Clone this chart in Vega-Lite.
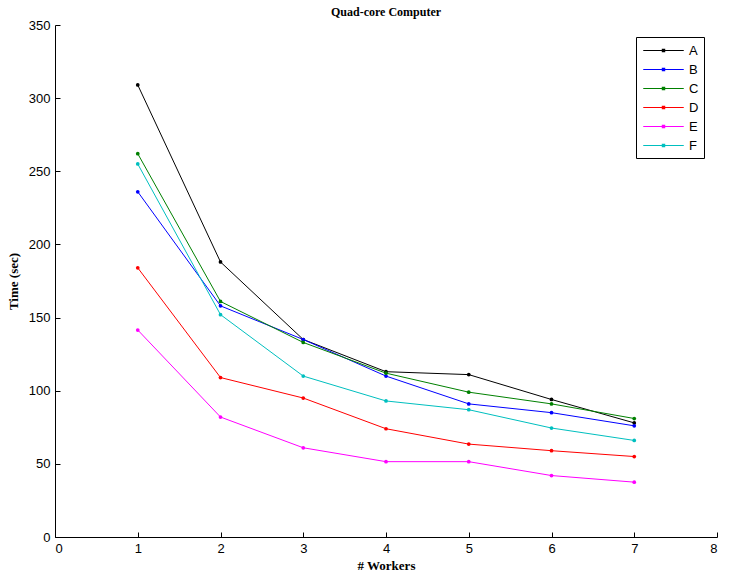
{
  "$schema": "https://vega.github.io/schema/vega-lite/v6.json",
  "width": 662,
  "height": 512,
  "autosize": {"type": "none"},
  "padding": {"left": 55, "top": 25, "right": 12, "bottom": 45},
  "background": "white",
  "title": {"text": "Quad-core Computer", "font": "Liberation Serif", "fontSize": 12, "fontWeight": "bold", "color": "black", "offset": 0},
  "config": {
    "view": {"stroke": null},
    "axis": {"grid": false, "domainColor": "black", "tickColor": "black", "labelColor": "black", "titleColor": "black", "labelFont": "Liberation Sans", "labelFontSize": 13, "titleFont": "Liberation Serif", "titleFontSize": 13, "titleFontWeight": "bold"}
  },
  "data": {"values": [
    {"w": 1, "t": 309, "s": "A"}, {"w": 2, "t": 188, "s": "A"}, {"w": 3, "t": 135, "s": "A"}, {"w": 4, "t": 113, "s": "A"}, {"w": 5, "t": 111, "s": "A"}, {"w": 6, "t": 94, "s": "A"}, {"w": 7, "t": 78, "s": "A"},
    {"w": 1, "t": 236, "s": "B"}, {"w": 2, "t": 158, "s": "B"}, {"w": 3, "t": 135, "s": "B"}, {"w": 4, "t": 110, "s": "B"}, {"w": 5, "t": 91, "s": "B"}, {"w": 6, "t": 85, "s": "B"}, {"w": 7, "t": 76, "s": "B"},
    {"w": 1, "t": 262, "s": "C"}, {"w": 2, "t": 161, "s": "C"}, {"w": 3, "t": 133, "s": "C"}, {"w": 4, "t": 112, "s": "C"}, {"w": 5, "t": 99, "s": "C"}, {"w": 6, "t": 91, "s": "C"}, {"w": 7, "t": 81, "s": "C"},
    {"w": 1, "t": 184, "s": "D"}, {"w": 2, "t": 109, "s": "D"}, {"w": 3, "t": 95, "s": "D"}, {"w": 4, "t": 74, "s": "D"}, {"w": 5, "t": 63.5, "s": "D"}, {"w": 6, "t": 59, "s": "D"}, {"w": 7, "t": 55, "s": "D"},
    {"w": 1, "t": 141.5, "s": "E"}, {"w": 2, "t": 82, "s": "E"}, {"w": 3, "t": 61, "s": "E"}, {"w": 4, "t": 51.5, "s": "E"}, {"w": 5, "t": 51.5, "s": "E"}, {"w": 6, "t": 42, "s": "E"}, {"w": 7, "t": 37.5, "s": "E"},
    {"w": 1, "t": 255, "s": "F"}, {"w": 2, "t": 152, "s": "F"}, {"w": 3, "t": 110, "s": "F"}, {"w": 4, "t": 93, "s": "F"}, {"w": 5, "t": 87, "s": "F"}, {"w": 6, "t": 74.5, "s": "F"}, {"w": 7, "t": 66, "s": "F"}
  ]},
  "encoding": {
    "x": {"field": "w", "type": "quantitative", "title": "# Workers", "scale": {"domain": [0, 8], "nice": false}, "axis": {"values": [0,1,2,3,4,5,6,7,8], "tickSize": -5, "labelPadding": 10, "titlePadding": 4}},
    "y": {"field": "t", "type": "quantitative", "title": "Time (sec)", "scale": {"domain": [0, 350], "nice": false}, "axis": {"values": [0,50,100,150,200,250,300,350], "tickSize": -5, "labelPadding": 10, "titlePadding": 8}},
    "color": {"field": "s", "type": "nominal", "title": null,
      "scale": {"domain": ["A","B","C","D","E","F"], "range": ["#000000","#0000ff","#008000","#ff0000","#ff00ff","#00bfbf"]},
      "legend": {"orient": "none", "legendX": 581, "legendY": 12, "strokeColor": "black", "fillColor": "white", "padding": 5, "labelFont": "Liberation Sans", "labelFontSize": 13, "labelColor": "black", "rowPadding": 3, "symbolType": "M-2.7,0H2.7M-0.15,-0.15H0.15V0.15H-0.15Z", "symbolSize": 225, "symbolOffset": 14, "labelOffset": 17, "symbolStrokeWidth": 1.2}
    }
  },
  "layer": [
    {"mark": {"type": "line", "strokeWidth": 1}},
    {"mark": {"type": "point", "filled": true, "size": 14, "opacity": 1}}
  ]
}
